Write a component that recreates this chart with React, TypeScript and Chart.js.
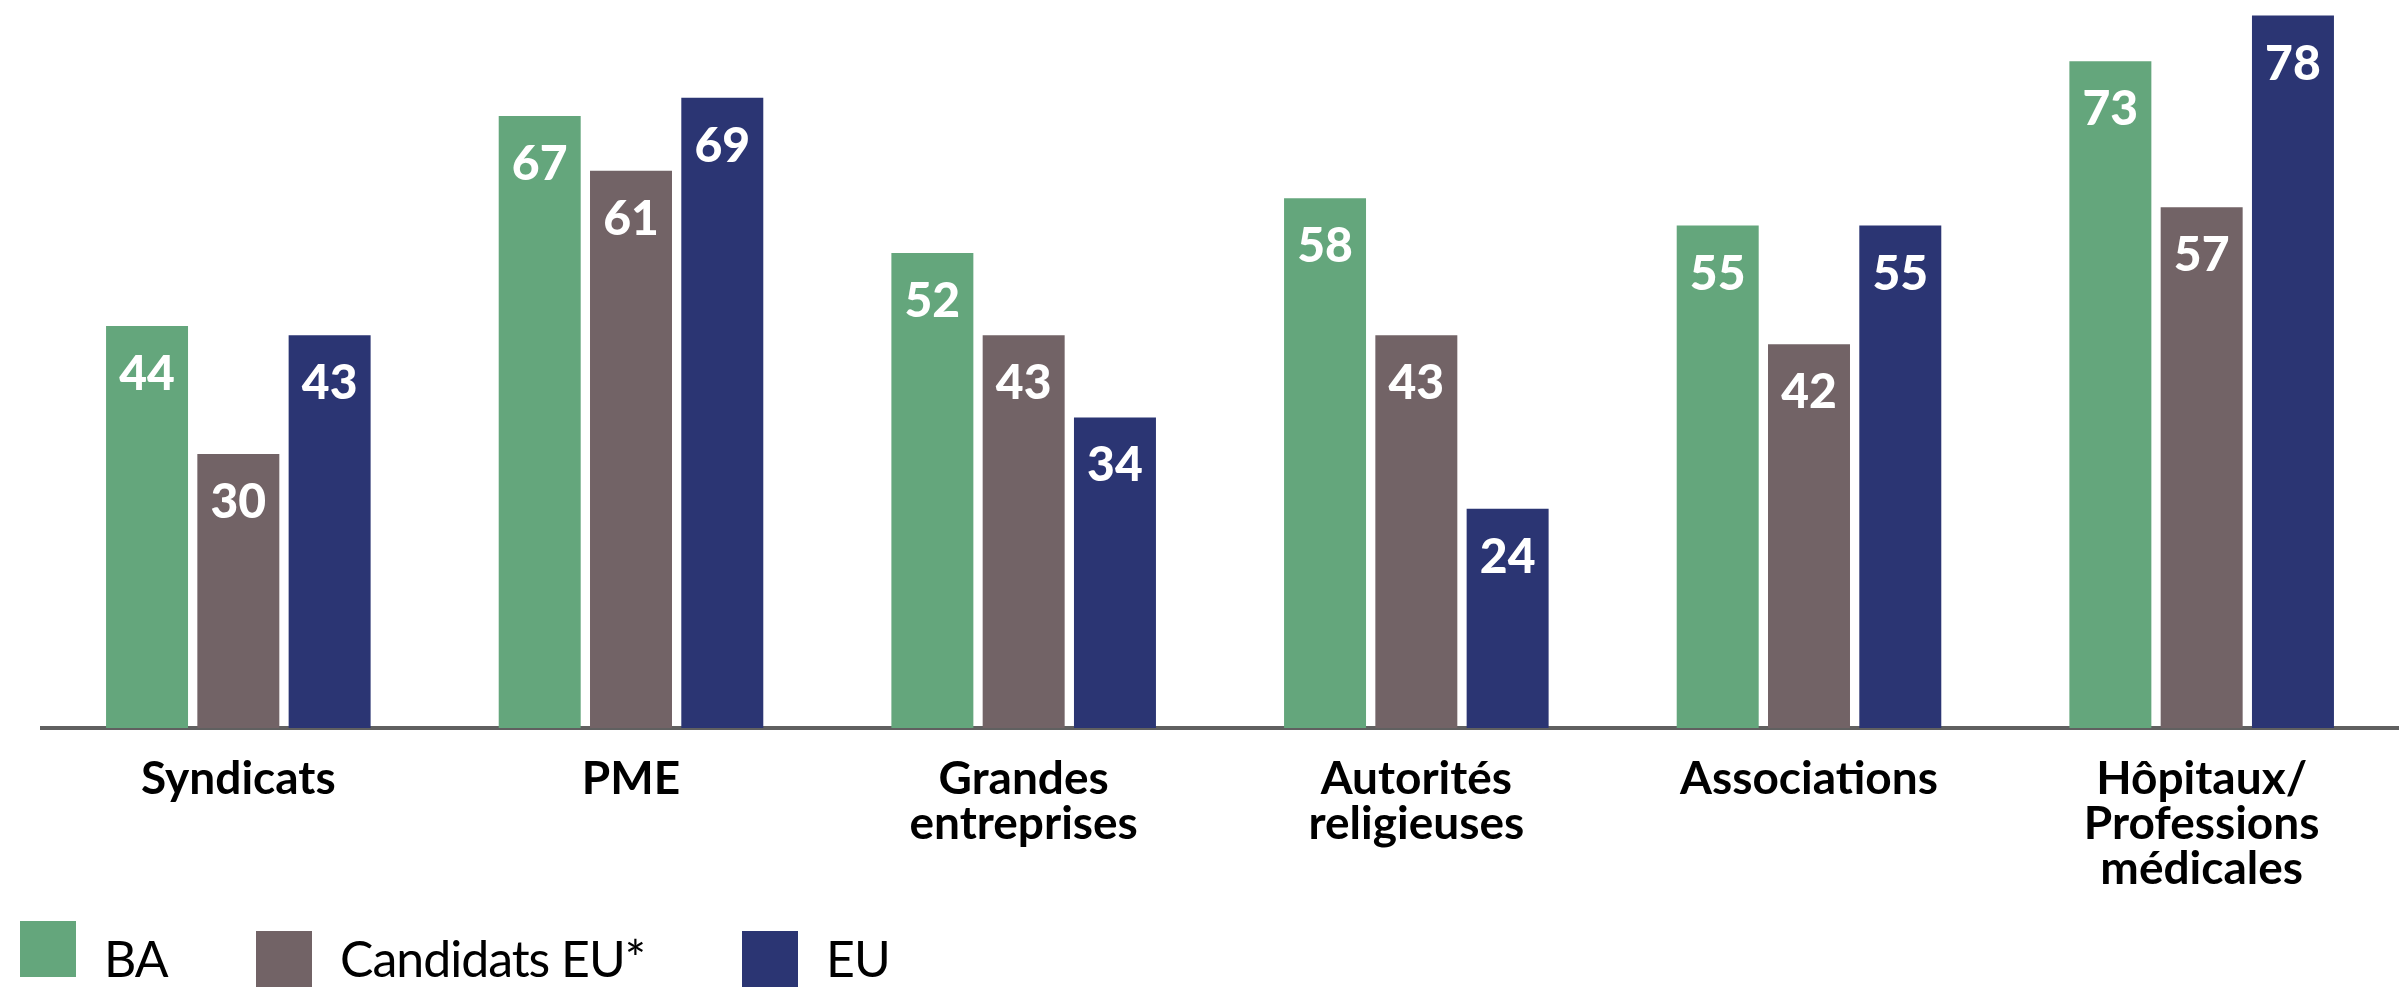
import React, { useEffect, useRef } from "react";
import {
  Chart,
  BarController,
  BarElement,
  CategoryScale,
  LinearScale,
} from "chart.js";

Chart.register(BarController, BarElement, CategoryScale, LinearScale);

// Categories (multi-line labels as arrays)
const categories = [
  ["Syndicats"],
  ["PME"],
  ["Grandes", "entreprises"],
  ["Autorités", "religieuses"],
  ["Associations"],
  ["Hôpitaux/", "Professions", "médicales"],
];

const seriesNames = ["BA", "Candidats EU*", "EU"];
const seriesColors = ["#64a67c", "#726366", "#2b3573"];

const baValues = [44, 67, 52, 58, 55, 73];
const candidatsValues = [30, 61, 43, 43, 42, 57];
const euValues = [43, 69, 34, 24, 55, 78];

// legend placement (box left/top, text left)
const legendBoxLeft = [20, 256, 742];
const legendBoxTop = [921, 931, 931];
const legendTextLeft = [104, 340, 826];

// white value labels inside the top of each bar
const barValueLabels = {
  id: "barValueLabels",
  afterDatasetsDraw(chart: Chart) {
    const { ctx } = chart;
    ctx.save();
    ctx.fillStyle = "#ffffff";
    ctx.font = "900 48px Lato";
    ctx.textAlign = "center";
    ctx.textBaseline = "alphabetic";
    chart.data.datasets.forEach((ds, i) => {
      chart.getDatasetMeta(i).data.forEach((bar: any, j) => {
        ctx.fillText(String(ds.data[j]), bar.x, bar.y + 64);
      });
    });
    ctx.restore();
  },
};

function BarChart() {
  const canvasRef = useRef<HTMLCanvasElement | null>(null);
  const chartRef = useRef<Chart | null>(null);

  useEffect(() => {
    if (!canvasRef.current) return;
    const ctx = canvasRef.current.getContext("2d");
    if (!ctx) return;

    if (chartRef.current) {
      chartRef.current.destroy();
    }

    const values = [baValues, candidatsValues, euValues];

    chartRef.current = new Chart(ctx, {
      type: "bar",
      data: {
        labels: categories,
        datasets: seriesNames.map((name, i) => ({
          label: name,
          data: values[i],
          backgroundColor: seriesColors[i],
          borderWidth: 0,
          categoryPercentage: 0.6975,
          barPercentage: 0.898,
        })),
      },
      options: {
        responsive: true,
        maintainAspectRatio: false,
        animation: false,
        layout: { padding: { left: 42, right: 10, top: 0, bottom: 0 } },
        plugins: {
          legend: { display: false },
          tooltip: { enabled: false },
        },
        scales: {
          x: {
            grid: { display: false, drawTicks: false },
            border: { display: true, color: "#606060", width: 4 },
            ticks: {
              color: "#000000",
              padding: 29,
              autoSkip: false,
              maxRotation: 0,
              font: { family: "Lato", weight: "bold", size: 46, lineHeight: 45 / 46 },
            },
          },
          y: {
            display: false,
            min: 0,
            max: 79.7,
          },
        },
      },
      plugins: [barValueLabels],
    });

    return () => {
      if (chartRef.current) {
        chartRef.current.destroy();
        chartRef.current = null;
      }
    };
  }, []);

  return <canvas ref={canvasRef} />;
}

export default function App() {
  return (
    <div
      style={{
        position: "absolute",
        left: 0,
        top: 0,
        width: 2408,
        height: 1004,
        background: "#ffffff",
        fontFamily: "Lato, sans-serif",
      }}
    >
      <div style={{ position: "absolute", left: 0, top: 0, width: 2408, height: 921 }}>
        <BarChart />
      </div>
      {seriesNames.map((name, i) => (
        <React.Fragment key={name}>
          <div
            style={{
              position: "absolute",
              left: legendBoxLeft[i],
              top: legendBoxTop[i],
              width: 56,
              height: 56,
              background: seriesColors[i],
            }}
          />
          <span
            style={{
              position: "absolute",
              left: legendTextLeft[i],
              top: 933,
              fontSize: 50,
              lineHeight: "50px",
              letterSpacing: "-1px",
              color: "#000000",
              whiteSpace: "nowrap",
            }}
          >
            {name}
          </span>
        </React.Fragment>
      ))}
    </div>
  );
}
